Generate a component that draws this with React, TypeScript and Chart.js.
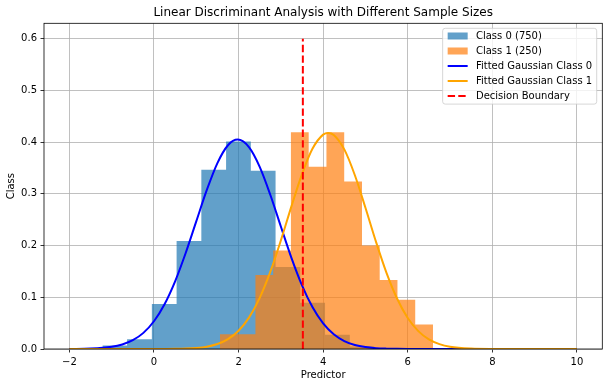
import React, { useEffect, useRef } from "react";
import { Chart, registerables } from "chart.js";

Chart.register(...registerables);

// ---- data ----
const titleText = "Linear Discriminant Analysis with Different Sample Sizes";
const xAxisLabel = "Predictor";
const yAxisLabel = "Class";
const seriesLabels = [
  "Class 0 (750)",
  "Class 1 (250)",
  "Fitted Gaussian Class 0",
  "Fitted Gaussian Class 1",
  "Decision Boundary",
];

// histogram bin edges and densities
const class0Edges = [-1.22, -0.635, -0.05, 0.535, 1.12, 1.705, 2.29, 2.875, 3.46, 4.045, 4.63, 5.215];
const class0Density = [0.0069, 0.019, 0.0872, 0.2088, 0.3466, 0.4016, 0.345, 0.1584, 0.0895, 0.0275, 0.0046];

const class1Edges = [1.559, 1.979, 2.399, 2.819, 3.238, 3.658, 4.078, 4.498, 4.918, 5.337, 5.757, 6.177, 6.597];
const class1Density = [0.0286, 0.0286, 0.1429, 0.1905, 0.4191, 0.3524, 0.4191, 0.3238, 0.2, 0.1333, 0.0952, 0.0476];

// fitted gaussian curves (values read along x)
const gauss0X = [
  -2, -1.5, -1, -0.75, -0.5, -0.25, 0, 0.25, 0.5, 0.75, 1, 1.25, 1.5, 1.75, 1.98, 2.25, 2.5, 2.75, 3, 3.25,
  3.5, 3.75, 4, 4.25, 4.5, 4.75, 5, 5.25, 5.5, 5.75, 6, 6.5, 7, 8, 9, 10,
];
const gauss0 = [
  0.0001, 0.0008, 0.0042, 0.0087, 0.017, 0.0312, 0.0537, 0.0866, 0.131, 0.1857, 0.2469, 0.3077, 0.3596,
  0.3941, 0.405, 0.39, 0.3523, 0.2984, 0.2369, 0.1763, 0.1231, 0.0806, 0.0494, 0.0284, 0.0154, 0.0078,
  0.0037, 0.0016, 0.0007, 0.0003, 0.0001, 0, 0, 0, 0, 0,
];
const gauss1X = [
  -2, -1, 0, 0.25, 0.5, 0.75, 1, 1.25, 1.5, 1.75, 2, 2.25, 2.5, 2.75, 3, 3.25, 3.5, 3.75, 4, 4.12, 4.25,
  4.5, 4.75, 5, 5.25, 5.5, 5.75, 6, 6.25, 6.5, 6.75, 7, 7.5, 8, 9, 10,
];
const gauss1 = [
  0, 0, 0, 0.0001, 0.0003, 0.0008, 0.002, 0.0045, 0.0096, 0.0191, 0.0354, 0.0612, 0.0989, 0.149, 0.2099,
  0.2758, 0.3384, 0.3877, 0.4147, 0.418, 0.4141, 0.3861, 0.3361, 0.2732, 0.2072, 0.1468, 0.0971, 0.0599,
  0.0346, 0.0186, 0.0094, 0.0044, 0.0008, 0.0001, 0, 0,
];

const boundaryX = 3.52;
const boundaryY = [0, 0.6];

const xTicks = [-2, 0, 2, 4, 6, 8, 10];
const yTicks = [0, 0.1, 0.2, 0.3, 0.4, 0.5, 0.6];
const xRange = [-2.6, 10.6];
const yRange = [0, 0.63];

// ---- helpers ----
function histPoints(edges: number[], dens: number[]) {
  const pts = dens.map((d, i) => ({ x: edges[i], y: d }));
  pts.push({ x: edges[edges.length - 1], y: dens[dens.length - 1] });
  return pts;
}

const FONT = '"DejaVu Sans", sans-serif';

const framePlugin = {
  id: "mplFrame",
  afterDatasetsDraw(chart: any) {
    const { ctx, chartArea: a } = chart;
    ctx.save();
    ctx.strokeStyle = "#000";
    ctx.lineWidth = 0.8;
    ctx.strokeRect(a.left, a.top, a.right - a.left, a.bottom - a.top);
    ctx.restore();
  },
};

const legendPlugin = {
  id: "mplLegend",
  afterDraw(chart: any) {
    const { ctx, chartArea: a } = chart;
    const ds = chart.data.datasets;
    ctx.save();
    ctx.font = `10px ${FONT}`;
    const textW = Math.max(...ds.map((d: any) => ctx.measureText(d.label).width));
    const right = a.right - 5.6;
    const top = a.top + 5;
    const textOff = 33.3;
    const w = textOff + textW + 4.5;
    const rowH = 15;
    const h = 7.7 * 2 + rowH * (ds.length - 1) + 0.4;
    const left = right - w;
    const r = 2.5;
    ctx.beginPath();
    ctx.moveTo(left + r, top);
    ctx.lineTo(right - r, top);
    ctx.quadraticCurveTo(right, top, right, top + r);
    ctx.lineTo(right, top + h - r);
    ctx.quadraticCurveTo(right, top + h, right - r, top + h);
    ctx.lineTo(left + r, top + h);
    ctx.quadraticCurveTo(left, top + h, left, top + h - r);
    ctx.lineTo(left, top + r);
    ctx.quadraticCurveTo(left, top, left + r, top);
    ctx.closePath();
    ctx.fillStyle = "rgba(255,255,255,0.8)";
    ctx.fill();
    ctx.strokeStyle = "rgba(204,204,204,0.8)";
    ctx.lineWidth = 1;
    ctx.stroke();

    ds.forEach((d: any, i: number) => {
      const cy = top + 7.7 + i * rowH;
      const hx = left + 5;
      if (d.legendKind === "patch") {
        ctx.fillStyle = d.backgroundColor;
        ctx.fillRect(hx, cy - 3.5, 20, 7);
      } else {
        ctx.beginPath();
        ctx.strokeStyle = d.borderColor;
        ctx.lineWidth = d.borderWidth;
        ctx.setLineDash(d.borderDash || []);
        ctx.moveTo(hx, cy);
        ctx.lineTo(hx + 20, cy);
        ctx.stroke();
        ctx.setLineDash([]);
      }
      ctx.fillStyle = "#000";
      ctx.textBaseline = "middle";
      ctx.textAlign = "left";
      ctx.fillText(d.label, left + textOff, cy + 0.5);
    });
    ctx.restore();
  },
};

export default function App() {
  const ref = useRef<HTMLCanvasElement>(null);

  useEffect(() => {
    Chart.defaults.font.family = FONT;
    Chart.defaults.color = "#000";

    const chart = new Chart(ref.current!, {
      type: "line",
      data: {
        datasets: [
          {
            label: seriesLabels[0],
            data: histPoints(class0Edges, class0Density),
            stepped: "before",
            fill: "origin",
            backgroundColor: "rgba(31,119,180,0.7)",
            borderColor: "rgba(0,0,0,0)",
            borderWidth: 0,
            pointRadius: 0,
            order: 5,
            legendKind: "patch",
          } as any,
          {
            label: seriesLabels[1],
            data: histPoints(class1Edges, class1Density),
            stepped: "before",
            fill: "origin",
            backgroundColor: "rgba(255,127,14,0.7)",
            borderColor: "rgba(0,0,0,0)",
            borderWidth: 0,
            pointRadius: 0,
            order: 4,
            legendKind: "patch",
          } as any,
          {
            label: seriesLabels[2],
            data: gauss0X.map((x, i) => ({ x, y: gauss0[i] })),
            borderColor: "blue",
            borderWidth: 2,
            pointRadius: 0,
            fill: false,
            cubicInterpolationMode: "monotone",
            order: 3,
            legendKind: "line",
          } as any,
          {
            label: seriesLabels[3],
            data: gauss1X.map((x, i) => ({ x, y: gauss1[i] })),
            borderColor: "orange",
            borderWidth: 2,
            pointRadius: 0,
            fill: false,
            cubicInterpolationMode: "monotone",
            order: 2,
            legendKind: "line",
          } as any,
          {
            label: seriesLabels[4],
            data: boundaryY.map((y) => ({ x: boundaryX, y })),
            borderColor: "red",
            borderWidth: 2,
            borderDash: [7.4, 3.2],
            pointRadius: 0,
            fill: false,
            order: 1,
            legendKind: "line",
          } as any,
        ],
      },
      options: {
        responsive: false,
        animation: false,
        devicePixelRatio: 1,
        layout: { padding: { left: 0, right: 6.7, top: 0, bottom: 0 } },
        plugins: {
          legend: { display: false },
          tooltip: { enabled: false },
          title: {
            display: true,
            text: titleText,
            fullSize: false,
            color: "#000",
            font: { size: 12, weight: "normal", family: FONT },
            padding: { top: 5.5, bottom: 3.4 },
          },
        },
        scales: {
          x: {
            type: "linear",
            min: xRange[0],
            max: xRange[1],
            afterBuildTicks: (s: any) => {
              s.ticks = xTicks.map((v) => ({ value: v }));
            },
            afterFit: (s: any) => {
              s.height = 38;
            },
            grid: {
              color: "#b0b0b0",
              lineWidth: 0.8,
              tickColor: "#000",
              tickLength: 3.5,
              tickWidth: 0.8,
              drawTicks: true,
            },
            border: { display: false },
            ticks: {
              color: "#000",
              font: { size: 10, family: FONT },
              padding: 3.5,
              maxRotation: 0,
              autoSkip: false,
              callback: (v: any) => (Number(v) < 0 ? "\u2212" + Math.abs(Number(v)) : String(v)),
            },
            title: {
              display: true,
              text: xAxisLabel,
              color: "#000",
              font: { size: 10, family: FONT },
              padding: { top: 0, bottom: 6 },
            },
          },
          y: {
            type: "linear",
            min: yRange[0],
            max: yRange[1],
            afterBuildTicks: (s: any) => {
              s.ticks = yTicks.map((v) => ({ value: v }));
            },
            afterFit: (s: any) => {
              s.width = 44;
            },
            grid: {
              color: "#b0b0b0",
              lineWidth: 0.8,
              tickColor: "#000",
              tickLength: 3.5,
              tickWidth: 0.8,
              drawTicks: true,
            },
            border: { display: false },
            ticks: {
              color: "#000",
              font: { size: 10, family: FONT },
              padding: 3.5,
              autoSkip: false,
              callback: (v: any) => Number(v).toFixed(1),
            },
            title: {
              display: true,
              text: yAxisLabel,
              color: "#000",
              font: { size: 10, family: FONT },
              padding: { top: 5, bottom: 0 },
            },
          },
        },
      },
      plugins: [framePlugin, legendPlugin],
    } as any);

    return () => chart.destroy();
  }, []);

  return (
    <div style={{ position: "absolute", left: 0, top: 0, width: 609, height: 387, background: "#fff" }}>
      <canvas ref={ref} width={609} height={387} style={{ display: "block" }} />
    </div>
  );
}
